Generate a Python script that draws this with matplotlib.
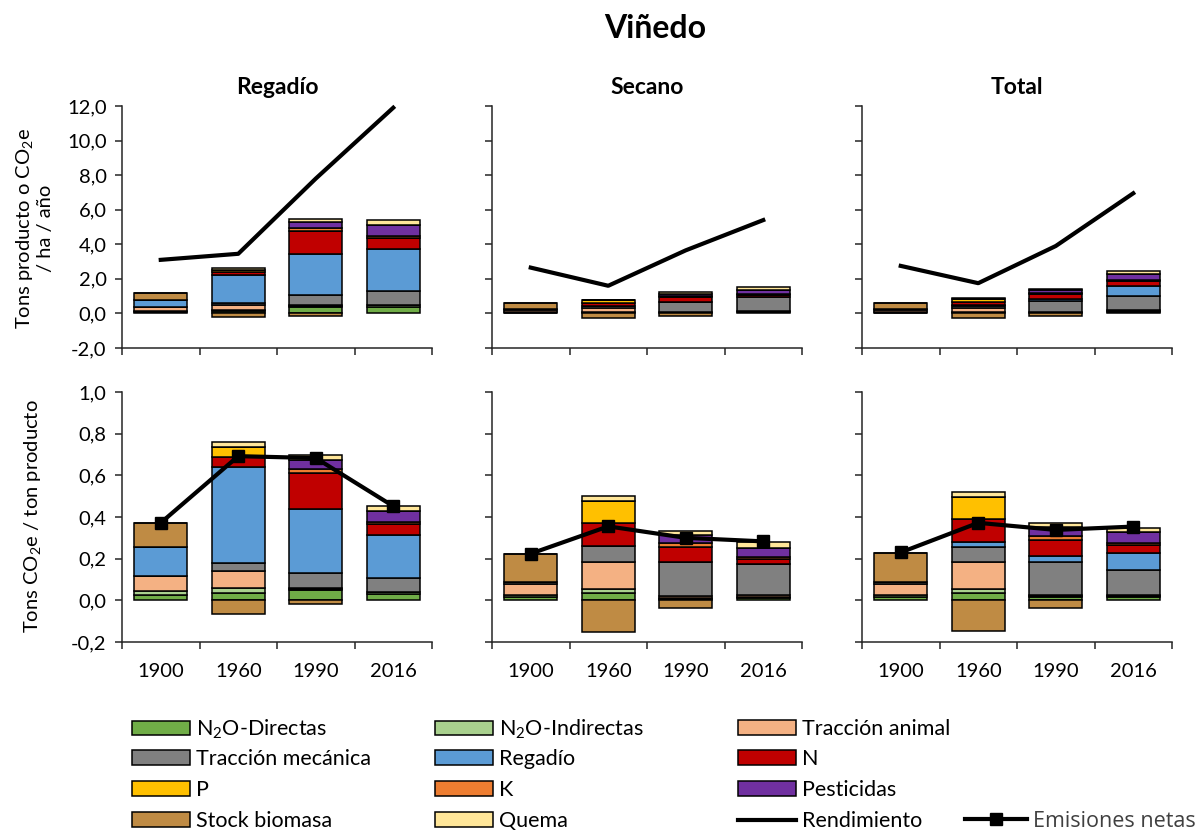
import numpy as np
import matplotlib
matplotlib.use('Agg')
import matplotlib.pyplot as plt
from matplotlib.patches import Patch
from matplotlib.lines import Line2D

plt.rcParams['font.family'] = ['Lato', 'DejaVu Sans']
plt.rcParams['mathtext.fontset'] = 'custom'
plt.rcParams['mathtext.rm'] = 'Lato'
plt.rcParams['mathtext.it'] = 'Lato:italic'
plt.rcParams['mathtext.bf'] = 'Lato:bold'

years = ['1900', '1960', '1990', '2016']
panels = ['Regadío', 'Secano', 'Total']
components = ['N$_2$O-Directas', 'N$_2$O-Indirectas', 'Tracción animal',
              'Tracción mecánica', 'Regadío', 'N', 'P', 'K', 'Pesticidas',
              'Stock biomasa', 'Quema']
colors = ['#70AD47', '#A9D18E', '#F4B183', '#808080', '#5B9BD5', '#C00000',
          '#FFC000', '#ED7D31', '#7030A0', '#BF8B44', '#FFE699']

# tons CO2e / ha / año  (rows = components, cols = years)
regadio_ha = [
    [0.074, 0.114, 0.374, 0.381],
    [0.065, 0.090, 0.055, 0.095],
    [0.217, 0.276, 0.047, 0.0],
    [0.0, 0.131, 0.562, 0.821],
    [0.437, 1.594, 2.379, 2.416],
    [0.0, 0.176, 1.349, 0.631],
    [0.0, 0.155, 0.0, 0.0],
    [0.0, 0.0, 0.148, 0.131],
    [0.0, 0.0, 0.351, 0.631],
    [0.360, -0.231, -0.125, 0.0],
    [0.0, 0.083, 0.187, 0.274],
]
secano_ha = [
    [0.042, 0.056, 0.018, 0.059],
    [0.027, 0.032, 0.022, 0.027],
    [0.138, 0.206, 0.037, 0.043],
    [0.021, 0.125, 0.602, 0.805],
    [0.0, 0.0, 0.0, 0.0],
    [0.0, 0.176, 0.259, 0.146],
    [0.0, 0.171, 0.0, 0.0],
    [0.0, 0.0, 0.073, 0.049],
    [0.0, 0.0, 0.131, 0.227],
    [0.352, -0.243, -0.131, 0.0],
    [0.0, 0.032, 0.069, 0.146],
]
total_ha = [
    [0.044, 0.061, 0.055, 0.111],
    [0.030, 0.035, 0.023, 0.042],
    [0.143, 0.226, 0.027, 0.035],
    [0.030, 0.126, 0.616, 0.827],
    [0.0, 0.042, 0.105, 0.570],
    [0.0, 0.193, 0.304, 0.271],
    [0.0, 0.179, 0.0, 0.0],
    [0.0, 0.0, 0.074, 0.056],
    [0.0, 0.0, 0.172, 0.382],
    [0.371, -0.261, -0.140, 0.0],
    [0.0, 0.042, 0.062, 0.132],
]

# tons CO2e / ton producto
regadio_ton = [
    [0.024, 0.033, 0.048, 0.032],
    [0.021, 0.026, 0.007, 0.008],
    [0.070, 0.080, 0.006, 0.0],
    [0.0, 0.038, 0.072, 0.069],
    [0.141, 0.462, 0.305, 0.203],
    [0.0, 0.051, 0.173, 0.053],
    [0.0, 0.045, 0.0, 0.0],
    [0.0, 0.0, 0.019, 0.011],
    [0.0, 0.0, 0.045, 0.053],
    [0.116, -0.067, -0.016, 0.0],
    [0.0, 0.024, 0.024, 0.023],
]
secano_ton = [
    [0.016, 0.035, 0.005, 0.011],
    [0.010, 0.020, 0.006, 0.005],
    [0.052, 0.129, 0.010, 0.008],
    [0.008, 0.078, 0.165, 0.149],
    [0.0, 0.0, 0.0, 0.0],
    [0.0, 0.110, 0.071, 0.027],
    [0.0, 0.107, 0.0, 0.0],
    [0.0, 0.0, 0.020, 0.009],
    [0.0, 0.0, 0.036, 0.042],
    [0.135, -0.152, -0.036, 0.0],
    [0.0, 0.022, 0.019, 0.027],
]
total_ton = [
    [0.016, 0.035, 0.014, 0.016],
    [0.011, 0.020, 0.006, 0.006],
    [0.052, 0.129, 0.007, 0.005],
    [0.011, 0.072, 0.158, 0.119],
    [0.0, 0.024, 0.027, 0.082],
    [0.0, 0.110, 0.078, 0.039],
    [0.0, 0.104, 0.0, 0.0],
    [0.0, 0.0, 0.019, 0.008],
    [0.0, 0.0, 0.044, 0.055],
    [0.137, -0.149, -0.036, 0.0],
    [0.0, 0.024, 0.016, 0.019],
]

# Rendimiento (tons producto / ha / año)
rend_regadio = [3.1, 3.45, 7.8, 11.9]
rend_secano = [2.65, 1.6, 3.65, 5.4]
rend_total = [2.75, 1.75, 3.9, 6.95]

# Emisiones netas (tons CO2e / ton producto)
netas_regadio = [0.372, 0.692, 0.683, 0.452]
netas_secano = [0.224, 0.355, 0.300, 0.283]
netas_total = [0.230, 0.372, 0.338, 0.354]

ha_data = [regadio_ha, secano_ha, total_ha]
ton_data = [regadio_ton, secano_ton, total_ton]
rend_data = [rend_regadio, rend_secano, rend_total]
netas_data = [netas_regadio, netas_secano, netas_total]

W, H = 1201, 830
fig = plt.figure(figsize=(W / 100, H / 100), dpi=100)

FS = 14.5      # ticks / axis labels
LFS = 15.5     # legend
lefts = [122, 492, 862]
ax_w = 310


def fmt(v):
    s = "{:.1f}".format(v)
    if s == "-0.0":
        s = "0.0"
    return s.replace('.', ',')


def stacked(ax, table):
    x = np.arange(len(years))
    pos = np.zeros(len(years))
    neg = np.zeros(len(years))
    for vals, c in zip(table, colors):
        vals = np.array(vals)
        bottom = np.where(vals >= 0, pos, neg)
        ax.bar(x, vals, bottom=bottom, width=0.68, color=c,
               edgecolor='black', linewidth=1.1, zorder=2)
        pos = pos + np.where(vals >= 0, vals, 0)
        neg = neg + np.where(vals < 0, vals, 0)


def style(ax, ticks, show_labels, show_x):
    for s in ['top', 'right']:
        ax.spines[s].set_visible(False)
    for s in ['left', 'bottom']:
        ax.spines[s].set_color('#262626')
        ax.spines[s].set_linewidth(1.1)
    ax.set_xlim(-0.5, 3.5)
    ax.set_ylim(ticks[0], ticks[-1])
    ax.set_yticks(ticks)
    ax.set_yticklabels([fmt(t) for t in ticks] if show_labels else [])
    ax.tick_params(axis='y', direction='out', length=5, width=1.1,
                   color='#262626', labelsize=FS, pad=6)
    ax.set_xticks([-0.5, 0.5, 1.5, 2.5, 3.5])
    ax.set_xticklabels([])
    ax.tick_params(axis='x', which='major', direction='out', length=5,
                   width=1.1, color='#262626')
    ax.set_xticks(np.arange(len(years)), minor=True)
    ax.set_xticklabels(years if show_x else [], minor=True)
    ax.tick_params(axis='x', which='minor', length=0, labelsize=FS, pad=15)


top_ticks = np.arange(-2, 13, 2)
bot_ticks = np.round(np.arange(-0.2, 1.01, 0.2), 1)

for k in range(3):
    # top row: per hectare
    ax = fig.add_axes([lefts[k] / W, 1 - 348 / H, ax_w / W, 242 / H])
    stacked(ax, ha_data[k])
    ax.plot(np.arange(4), rend_data[k], color='black', lw=3, zorder=3,
            clip_on=False)
    style(ax, top_ticks, k == 0, False)
    ax.set_title(panels[k], fontsize=16.5, fontweight='bold', pad=9)

    # bottom row: per ton
    ax = fig.add_axes([lefts[k] / W, 1 - 642 / H, ax_w / W, 250 / H])
    stacked(ax, ton_data[k])
    ax.plot(np.arange(4), netas_data[k], color='black', lw=3, marker='s',
            ms=9, zorder=3)
    style(ax, bot_ticks, k == 0, True)

fig.text(655 / W, 1 - 29 / H, 'Viñedo', fontsize=23, fontweight='bold',
         ha='center', va='center')
fig.text(34 / W, 1 - 228 / H, 'Tons producto o CO$_2$e\n/ ha / año',
         rotation=90, ha='center', va='center', fontsize=FS,
         multialignment='center', linespacing=1.1)
fig.text(33 / W, 1 - 516 / H, 'Tons CO$_2$e / ton producto',
         rotation=90, ha='center', va='center', fontsize=FS)

# legend, one entry at a time so rows line up like the original
handles = [Patch(facecolor=c, edgecolor='black', linewidth=1.1) for c in colors]
handles.append(Line2D([], [], color='black', lw=3))
labels = components + ['Rendimiento']
col_x = [132, 435, 738]
row_y = [729, 759, 790, 821]
for i, (h, lab) in enumerate(zip(handles, labels)):
    r, c = divmod(i, 3)
    fig.legend([h], [lab], loc='center left',
               bbox_to_anchor=(col_x[c] / W, 1 - row_y[r] / H),
               frameon=False, fontsize=LFS, handlelength=2.7,
               handleheight=0.65, handletextpad=0.28,
               borderpad=0, borderaxespad=0)

net_h = Line2D([], [], color='black', lw=3, marker='s', ms=8)
leg = fig.legend([net_h], ['Emisiones netas'], loc='center left',
                 bbox_to_anchor=(965 / W, 1 - 821 / H), frameon=False,
                 fontsize=LFS, handlelength=2.9, handletextpad=0.25,
                 borderpad=0, borderaxespad=0, labelcolor='#404040')
for t in leg.get_texts():
    t.set_family(['Open Sans', 'DejaVu Sans'])

fig.savefig('out.png', dpi=100)
